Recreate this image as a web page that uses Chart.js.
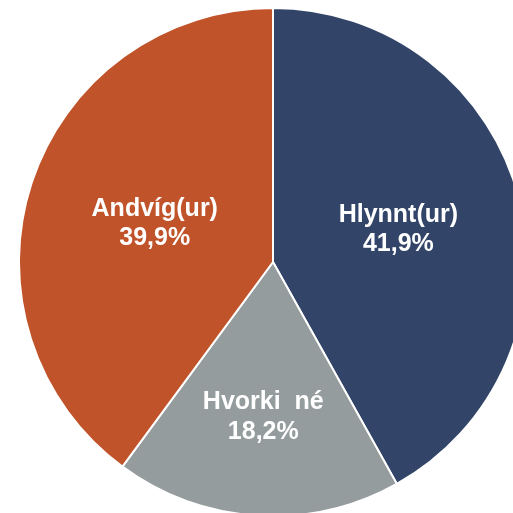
<!DOCTYPE html>
<html lang="is">
<head>
    <meta charset="UTF-8">
    <title>Afstaða</title>
    <script src="https://cdn.jsdelivr.net/npm/chart.js"></script>
    <style>
        html, body { margin: 0; padding: 0; background: #fff; overflow: hidden; width: 513px; height: 513px; }
        #wrap { position: absolute; left: 18px; top: 7px; width: 510px; height: 510px; }
    </style>
</head>
<body>
    <div id="wrap"><canvas id="pieChart" width="510" height="510"></canvas></div>

    <script>
        const categories = ['Hlynnt(ur)', 'Hvorki  né', 'Andvíg(ur)'];
        const shares = [41.9, 18.2, 39.9];
        const valueLabels = ['41,9%', '18,2%', '39,9%'];
        const sliceColors = ['#324568', '#959C9D', '#C05329'];
        // how far out from the centre each label sits (fraction of radius)
        const labelRadius = [0.51, 0.61, 0.49];

        const sliceLabels = {
            id: 'sliceLabels',
            afterDatasetsDraw(chart) {
                const ctx = chart.ctx;
                const meta = chart.getDatasetMeta(0);
                ctx.save();
                ctx.fillStyle = '#ffffff';
                ctx.font = 'bold 25px "Liberation Sans", Arial, sans-serif';
                ctx.textAlign = 'center';
                ctx.textBaseline = 'middle';
                meta.data.forEach((arc, i) => {
                    const mid = (arc.startAngle + arc.endAngle) / 2;
                    const r = arc.outerRadius * labelRadius[i];
                    const x = arc.x + Math.cos(mid) * r;
                    const y = arc.y + Math.sin(mid) * r;
                    ctx.fillText(categories[i], x, y - 14.5);
                    ctx.fillText(valueLabels[i], x, y + 15);
                });
                ctx.restore();
            }
        };

        new Chart(document.getElementById('pieChart'), {
            type: 'pie',
            data: {
                labels: categories,
                datasets: [{
                    data: shares,
                    backgroundColor: sliceColors,
                    borderColor: '#ffffff',
                    borderWidth: 2
                }]
            },
            options: {
                responsive: false,
                animation: false,
                layout: { padding: 0 },
                plugins: {
                    legend: { display: false },
                    tooltip: { enabled: false }
                }
            },
            plugins: [sliceLabels]
        });
    </script>
</body>
</html>
